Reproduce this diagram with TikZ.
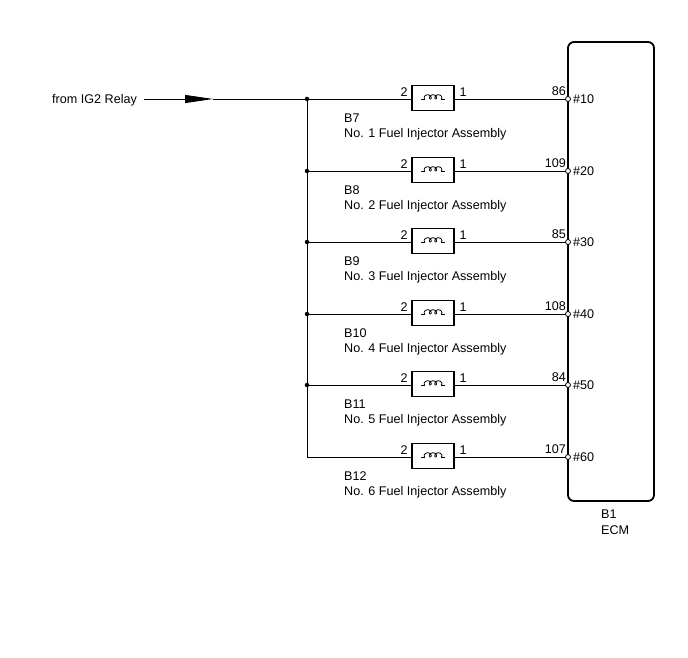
\documentclass[tikz,border=0pt]{standalone}
\usepackage{fontspec}
\setmainfont{Liberation Sans}
\usetikzlibrary{arrows.meta}
\tikzset{
  wire/.style={line width=0.9pt},
  injbox/.style={draw,line width=1.4pt,minimum width=42pt,minimum height=25pt,inner sep=0pt},
  ecmbox/.style={draw,line width=1.8pt,rounded corners=6pt},
  pin/.style={circle,draw,fill=white,line width=0.8pt,minimum size=5pt,inner sep=0pt},
  jdot/.style={circle,fill=black,minimum size=4.5pt,inner sep=0pt},
  lbl/.style={font=\fontsize{12.6}{14}\selectfont,inner sep=0pt},
  coilline/.style={line width=0.8pt},
}
\begin{document}
\begin{tikzpicture}[x=1pt,y=-1pt]
\useasboundingbox[fill=white] (0,0) rectangle (688,658);
% ECM
\draw[ecmbox] (568,42) rectangle (654,501);
\node[lbl,anchor=west] (b1) at (601,514) {B1};
\node[lbl,anchor=west] (ecm) at (601,530) {ECM};
% source
\node[lbl,anchor=west] (src) at (52,100) {from IG2 Relay};
\coordinate (s0) at (144,99);
\coordinate (tip) at (213,99);
\foreach \i/\y/\p/\h/\c in {1/99/86/10/B7,2/171/109/20/B8,3/242/85/30/B9,4/314/108/40/B10,5/385/84/50/B11,6/457/107/60/B12}{
  \coordinate (j\i) at (307,\y);
  \node[injbox] (inj\i) at (433,\y-1) {};
  \draw[wire] (j\i) -- (inj\i.west |- j\i);
  \draw[wire] (inj\i.east |- j\i) -- (568,\y);
  \draw[coilline] (421,\y) -- (425,\y);
  \draw[coilline] (441,\y) -- (445,\y);
  \draw[coilline,smooth] plot[domain=0:18.85,samples=90,variable=\t]
     ({425+0.85*\t-2.0*sin(\t r)},{\y-2.1*(1-cos(\t r))});
  \node[pin] (p\i) at (568,\y) {};
  \node[lbl,anchor=east] (pn\i) at (566,\y-8) {\p};
  \node[lbl,anchor=west] (h\i) at (573,\y) {\#\h};
  \node[lbl] (t2\i) at (404,\y-7) {2};
  \node[lbl] (t1\i) at (463,\y-7) {1};
  \node[lbl,anchor=west] (c\i) at (344,\y+19.5) {\c};
  \node[lbl,anchor=west] (n\i) at (344,\y+35.5) {No. \i\ Fuel Injector Assembly};
}
\draw[wire] (j1) -- (j6);
\foreach \i in {1,...,5} \node[jdot] at (j\i) {};
\draw[wire,-{Triangle[length=28pt,width=8pt]}] (s0) -- (tip);
\draw[wire] (tip) -- (j1);
\end{tikzpicture}
\end{document}
